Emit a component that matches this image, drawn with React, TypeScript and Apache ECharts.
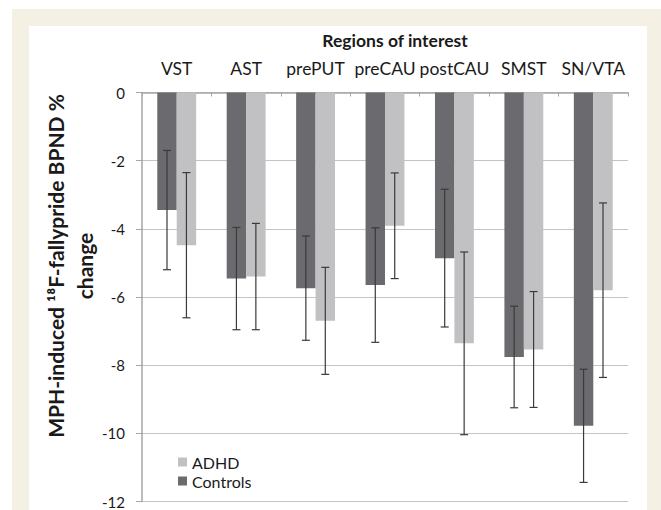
import React, { useEffect, useRef } from "react";
import * as echarts from "echarts";

const categories = ["VST", "AST", "prePUT", "preCAU", "postCAU", "SMST", "SN/VTA"];
const controlsMean = [-3.45, -5.46, -5.74, -5.65, -4.86, -7.76, -9.78];
const controlsSd = [1.75, 1.5, 1.53, 1.68, 2.02, 1.49, 1.66];
const adhdMean = [-4.48, -5.4, -6.7, -3.91, -7.36, -7.54, -5.8];
const adhdSd = [2.13, 1.56, 1.57, 1.55, 2.68, 1.7, 2.56];
const yTicks = { min: -12, max: 0, interval: 2 };

const FONT = "Lato, 'Open Sans', sans-serif";
const DARK = "#6b6b6f";
const LIGHT = "#c1c1c3";

function errorSeries(name: string, means: number[], sds: number[], offsetFrac: number) {
  return {
    type: "custom",
    name: name + " err",
    z: 10,
    silent: true,
    data: means.map((m, i) => [i, m, sds[i]]),
    renderItem: (params: any, api: any) => {
      const idx = api.value(0);
      const m = api.value(1);
      const sd = api.value(2);
      const band = api.size([1, 0])[0];
      const cx = api.coord([idx, m])[0] + band * offsetFrac;
      const yt = api.coord([idx, m + sd])[1];
      const yb = api.coord([idx, m - sd])[1];
      const cap = 4;
      const style = { stroke: "#3a3a3a", lineWidth: 1.2 };
      return {
        type: "group",
        children: [
          { type: "line", shape: { x1: cx, y1: yt, x2: cx, y2: yb }, style },
          { type: "line", shape: { x1: cx - cap, y1: yt, x2: cx + cap, y2: yt }, style },
          { type: "line", shape: { x1: cx - cap, y1: yb, x2: cx + cap, y2: yb }, style },
        ],
      };
    },
  };
}

export default function App() {
  const ref = useRef<HTMLDivElement>(null);
  useEffect(() => {
    document.body.style.margin = "0";
    const chart = echarts.init(ref.current!, null, { renderer: "svg" });
    chart.setOption({
      animation: false,
      backgroundColor: "#ffffff",
      graphic: [
        { type: "rect", z: -10, shape: { x: 12, y: 9, width: 649, height: 501 }, style: { fill: "#f4f0e3" } },
        { type: "rect", z: -9, shape: { x: 29, y: 26, width: 618, height: 484 }, style: { fill: "#ffffff" } },
        {
          type: "text",
          x: 70,
          y: 266,
          rotation: Math.PI / 2,
          style: {
            text: "MPH-induced \u00b9\u2078F-fallypride BPND %\nchange",
            font: `bold 21px ${FONT}`,
            fill: "#1a1a1a",
            align: "center",
            verticalAlign: "middle",
            lineHeight: 29,
          },
        },
      ],
      title: {
        text: "Regions of interest",
        left: 390,
        textAlign: "center",
        top: 26,
        textStyle: { fontFamily: FONT, fontSize: 17.5, fontWeight: "bold", color: "#1a1a1a" },
      },
      legend: {
        data: ["ADHD", "Controls"],
        orient: "vertical",
        left: 173,
        top: 449,
        itemWidth: 9,
        itemHeight: 9,
        itemGap: 3,
        icon: "rect",
        textStyle: { fontFamily: FONT, fontSize: 16, color: "#1a1a1a" },
      },
      grid: { left: 142, right: 33, top: 92.5, bottom: 8.5, containLabel: false },
      xAxis: {
        type: "category",
        position: "top",
        data: categories,
        axisLine: { lineStyle: { color: "#a6a6a6", width: 1.5 } },
        axisTick: { show: true, inside: true, length: 4, lineStyle: { color: "#a6a6a6" } },
        axisLabel: { interval: 0, fontFamily: FONT, fontSize: 17.5, color: "#1a1a1a", margin: 15 },
      },
      yAxis: {
        type: "value",
        min: yTicks.min,
        max: yTicks.max,
        interval: yTicks.interval,
        axisLine: { show: true, lineStyle: { color: "#a6a6a6", width: 1.5 } },
        axisTick: { show: true, length: 6, lineStyle: { color: "#a6a6a6" } },
        axisLabel: { fontFamily: FONT, fontSize: 15, color: "#1a1a1a", margin: 17 },
        splitLine: { lineStyle: { color: "#c4c4c4", width: 1.2 } },
      },
      series: [
        {
          type: "bar",
          name: "Controls",
          data: controlsMean,
          barWidth: "28%",
          barGap: "0%",
          itemStyle: { color: DARK },
        },
        {
          type: "bar",
          name: "ADHD",
          data: adhdMean,
          barWidth: "28%",
          barGap: "0%",
          itemStyle: { color: LIGHT },
        },
        errorSeries("Controls", controlsMean, controlsSd, -0.14),
        errorSeries("ADHD", adhdMean, adhdSd, 0.14),
      ],
    });
    return () => chart.dispose();
  }, []);
  return <div ref={ref} style={{ width: 661, height: 510 }} />;
}
